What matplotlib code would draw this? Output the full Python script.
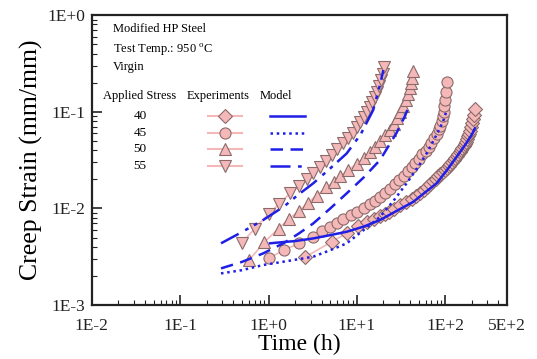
import numpy as np
import matplotlib
matplotlib.use('Agg')
import matplotlib.pyplot as plt
from matplotlib.ticker import FixedLocator, FixedFormatter, LogLocator, NullFormatter
from matplotlib.lines import Line2D

plt.rcParams['font.family'] = ['Liberation Serif', 'DejaVu Serif']
plt.rcParams['mathtext.fontset'] = 'custom'
plt.rcParams['mathtext.rm'] = 'Liberation Serif'

# experiments (time h, strain mm/mm)
t40 = [2.6, 5.2, 7.8, 10.4, 13, 15.6, 18.2, 20.8, 23.4, 26, 31.2, 36.4, 41.6, 46.8, 52,
       57.2, 62.4, 67.6, 72.8, 78, 83.2, 88.4, 93.6, 98.8, 104, 109.2, 114.4, 119.6,
       124.8, 130, 135.2, 140.4, 145.6, 150.8, 156, 161.2, 166.4, 171.6, 176.8, 182,
       187.2, 192.4, 197.6, 202.8, 208, 213.2, 218]
e40 = [0.00314, 0.00453, 0.0056, 0.0066, 0.0072, 0.0078, 0.0083, 0.0088, 0.0093, 0.0099,
       0.0108, 0.0117, 0.0126, 0.0136, 0.0146, 0.0157, 0.0168, 0.0180, 0.0192, 0.0204,
       0.0216, 0.0228, 0.0240, 0.0252, 0.0265, 0.0278, 0.0291, 0.0305, 0.0319, 0.0333,
       0.0348, 0.0364, 0.0380, 0.0398, 0.0418, 0.0440, 0.0464, 0.0490, 0.0520, 0.0555,
       0.0595, 0.0640, 0.0695, 0.0760, 0.0840, 0.0930, 0.108]

t45 = [1.0, 1.5, 2.2, 3.2, 4.0, 5.0, 6, 7, 8.5, 10, 12, 14, 16, 18.5, 21, 24, 27, 30, 34,
       38, 42, 46, 50, 55, 60, 65, 70, 75, 80, 85, 88, 91, 94, 96, 98, 100, 102, 104]
e45 = [0.00305, 0.00372, 0.00435, 0.0051, 0.0058, 0.0065, 0.0071, 0.0077, 0.0085, 0.0093,
       0.0102, 0.0111, 0.0120, 0.0132, 0.0145, 0.0160, 0.0178, 0.0195, 0.0218, 0.0242,
       0.0268, 0.0295, 0.0325, 0.0362, 0.0395, 0.0435, 0.048, 0.053, 0.059, 0.066,
       0.072, 0.080, 0.090, 0.100, 0.114, 0.132, 0.160, 0.205]

t50 = [0.6, 0.9, 1.3, 1.7, 2.2, 2.8, 3.5, 4.5, 5.5, 6.5, 8, 10, 12, 14, 16, 18.5, 21,
       23.5, 26, 28.5, 31, 33.5, 36, 38, 40, 41.5, 42.5, 43.5]
e50 = [0.0029, 0.0045, 0.0062, 0.0078, 0.0094, 0.0115, 0.0136, 0.0165, 0.019, 0.0215,
       0.025, 0.029, 0.0335, 0.038, 0.043, 0.050, 0.057, 0.065, 0.075, 0.087, 0.100,
       0.115, 0.133, 0.152, 0.175, 0.200, 0.225, 0.265]

t55 = [0.5, 0.7, 1.0, 1.3, 1.75, 2.2, 2.7, 3.2, 3.8, 4.5, 5.2, 6, 7, 8, 9, 10, 11, 12,
       13, 14, 15, 16, 17, 18, 19, 19.8, 20.5]
e55 = [0.0044, 0.0062, 0.0088, 0.011, 0.0143, 0.0170, 0.020, 0.0231, 0.027, 0.031,
       0.036, 0.041, 0.047, 0.054, 0.061, 0.069, 0.078, 0.088, 0.099, 0.112, 0.127,
       0.143, 0.162, 0.185, 0.212, 0.245, 0.29]

# model curves
mt40 = [1.04, 1.5, 2, 3.21, 5, 7.66, 12, 18.3, 28, 43.5, 60, 80, 105, 135, 170, 200, 217]
me40 = [0.00436, 0.0045, 0.0046, 0.0049, 0.0053, 0.00574, 0.0065, 0.00759, 0.0094,
        0.0117, 0.0148, 0.0182, 0.025, 0.0343, 0.046, 0.058, 0.0673]
mt45 = [0.29, 0.5, 0.87, 1.8, 3.21, 5, 7.66, 12, 18.3, 26, 36.6, 48, 61.6, 80, 95, 104]
me45 = [0.00213, 0.0023, 0.0026, 0.0029, 0.00317, 0.0037, 0.00435, 0.006, 0.0082, 0.012,
        0.0182, 0.026, 0.037, 0.058, 0.08, 0.104]
mt50 = [0.29, 0.5, 0.87, 1.5, 2.2, 3.21, 5, 7.66, 12, 18.3, 28, 35, 39.9]
me50 = [0.0024, 0.0028, 0.00343, 0.0044, 0.0055, 0.0070, 0.0100, 0.0143, 0.021, 0.0317,
        0.060, 0.090, 0.122]
mt55 = [0.29, 0.5, 0.87, 1.5, 2.2, 3.21, 5, 7.66, 11, 15.3, 18, 20]
me55 = [0.00436, 0.0057, 0.00759, 0.0105, 0.0140, 0.0182, 0.026, 0.037, 0.058, 0.104,
        0.18, 0.27]

stress = ['40', '45', '50', '55']
markers = ['D', 'o', '^', 'v']
styles = ['-', (0, (1, 1.5)), (0, (5, 3)), (0, (8, 3, 1.5, 2.5, 1.5, 2.5))]
xticks = [1e-2, 1e-1, 1, 10, 100, 500]
xlabels = ['1E-2', '1E-1', '1E+0', '1E+1', '1E+2', '5E+2']
yticks = [1e-3, 1e-2, 1e-1, 1]
ylabels = ['1E-3', '1E-2', '1E-1', '1E+0']

pink = '#f5b8b8'
edge = '#8a6a6a'
blue = '#1f1fe6'

fig = plt.figure(figsize=(5.37, 3.59), dpi=100)
ax = fig.add_axes([0.171, 0.150, 0.773, 0.808])

exps = [(t40, e40), (t45, e45), (t50, e50), (t55, e55)]
mods = [(mt40, me40), (mt45, me45), (mt50, me50), (mt55, me55)]
for (t, e), m in zip(exps, markers):
    ax.plot(t, e, color=pink, lw=1.2, marker=m, ms=8 if m != 'D' else 7,
            mfc=pink, mec=edge, mew=0.8, zorder=2)
for (t, e), ls in zip(mods, styles):
    ax.plot(t, e, color=blue, lw=1.8, ls=ls, zorder=3)

ax.set_xscale('log')
ax.set_yscale('log')
ax.set_xlim(1e-2, 5e2)
ax.set_ylim(1e-3, 1)

ax.xaxis.set_major_locator(FixedLocator(xticks))
ax.xaxis.set_major_formatter(FixedFormatter(xlabels))
ax.xaxis.set_minor_locator(LogLocator(base=10, subs=np.arange(2, 10)))
ax.xaxis.set_minor_formatter(NullFormatter())
ax.yaxis.set_major_locator(FixedLocator(yticks))
ax.yaxis.set_major_formatter(FixedFormatter(ylabels))
ax.yaxis.set_minor_locator(LogLocator(base=10, subs=np.arange(2, 10)))
ax.yaxis.set_minor_formatter(NullFormatter())

ax.tick_params(which='both', direction='in', top=False, right=False, labelsize=12.5, colors='#222222')
ax.tick_params(which='major', length=7, width=1.2)
ax.tick_params(axis='x', which='major', pad=9)
ax.tick_params(axis='y', which='major', pad=5)
ax.tick_params(which='minor', length=3.5, width=0.8)
for s in ax.spines.values():
    s.set_linewidth(1.6)
    s.set_color('#222222')

ax.set_xlabel('Time (h)', fontsize=17, labelpad=0)
ax.set_ylabel('Creep Strain (mm/mm)', fontsize=18.5, labelpad=3)

# annotation block / legend
tr = ax.transAxes
ax.text(0.051, 0.952, 'Modified HP Steel', transform=tr, fontsize=9, va='center')
ax.text(0.051, 0.879, r'Test Temp.: 950 $^{\rm o}$C', transform=tr, fontsize=9, va='center')
ax.text(0.051, 0.821, 'Virgin', transform=tr, fontsize=9, va='center')
ax.text(0.0265, 0.721, 'Applied Stress', transform=tr, fontsize=9, va='center')
ax.text(0.229, 0.721, 'Experiments', transform=tr, fontsize=9, va='center')
ax.text(0.405, 0.721, 'Model', transform=tr, fontsize=9, va='center')
rows = [0.652, 0.593, 0.538, 0.479]
for lab, m, ls, yy in zip(stress, markers, styles, rows):
    ax.text(0.116, yy, lab, transform=tr, fontsize=9.5, ha='center', va='center')
    ax.add_line(Line2D([0.280, 0.361], [yy, yy], transform=tr, color=pink, lw=1.5))
    ax.add_line(Line2D([0.3205], [yy], transform=tr, marker=m, ms=8 if m != 'D' else 7,
                       mfc=pink, mec=edge, mew=0.8, ls='none'))
    ax.add_line(Line2D([0.429, 0.513], [yy, yy], transform=tr, color=blue, lw=1.8, ls=ls))

fig.savefig('out.png', dpi=100)
